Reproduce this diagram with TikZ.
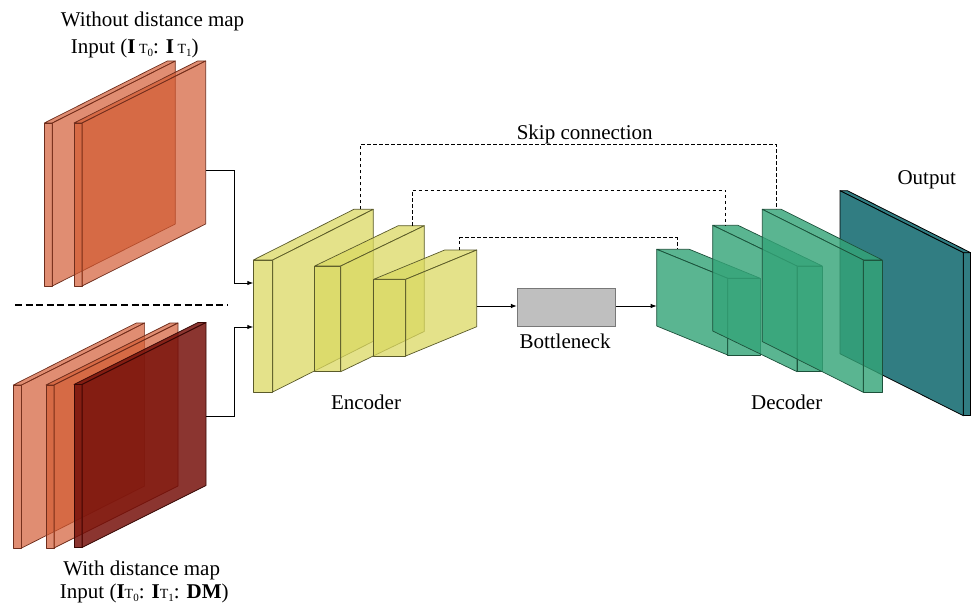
\documentclass[tikz,border=0pt]{standalone}
\usepackage{fontspec}
\setmainfont{Liberation Serif}
\usetikzlibrary{arrows.meta,calc}
\definecolor{salmon}{RGB}{210,90,50}
\definecolor{salmonE}{RGB}{110,45,28}
\definecolor{dred}{RGB}{117,14,8}
\definecolor{dredE}{RGB}{55,8,5}
\definecolor{yel}{RGB}{218,216,97}
\definecolor{yelE}{RGB}{90,90,42}
\definecolor{grn}{RGB}{52,164,120}
\definecolor{grnE}{RGB}{28,80,58}
\definecolor{tealout}{RGB}{49,125,130}
\definecolor{bnfill}{RGB}{191,191,191}
\definecolor{bnE}{RGB}{120,120,120}
% #1 style, #2 x, #3 y, #4 w, #5 h, #6 dx, #7 dy, #8 side face x offset
\newcommand\cuboid[8]{%
  \path[#1] (#2,#3) rectangle (#2+#4,#3+#5);
  \path[#1] (#2,#3) -- (#2+#4,#3) -- (#2+#4+#6,#3+#7) -- (#2+#6,#3+#7) -- cycle;
  \path[#1] (#2+#8,#3) -- (#2+#8+#6,#3+#7) -- (#2+#8+#6,#3+#5+#7) -- (#2+#8,#3+#5) -- cycle;
}
\newcommand\subT[1]{{\fontsize{14}{14}\selectfont T\raisebox{-3pt}{\fontsize{11}{11}\selectfont #1}}}
\begin{document}
\begin{tikzpicture}[x=1pt,y=-1pt,
  plate/.style={fill=salmon, fill opacity=0.69, draw=salmonE, line width=0.7pt, line join=round},
  dplate/.style={fill=dred, fill opacity=0.84, draw=dredE, line width=0.7pt, line join=round},
  encblk/.style={fill=yel, fill opacity=0.74, draw=yelE, line width=0.7pt, line join=round},
  decblk/.style={fill=grn, fill opacity=0.81, draw=grnE, line width=0.7pt, line join=round},
  outblk/.style={fill=tealout, draw=black, line width=0.8pt, line join=round},
  lbl/.style={font=\fontsize{21}{25}\selectfont, anchor=base, inner sep=0pt},
  arr/.style={line width=0.9pt, -{Latex[length=6pt,width=4.5pt]}},
  skipline/.style={line width=0.9pt, dash pattern=on 3.5pt off 2.5pt},
  bnbox/.style={fill=bnfill, draw=bnE, line width=0.8pt, minimum width=98.4pt, minimum height=38.4pt, inner sep=0pt}
]
\useasboundingbox (0,0) rectangle (971,604);

% input plates (without distance map)
\cuboid{plate}{44.3}{123}{8}{163}{123}{-62}{8}
\cuboid{plate}{74}{123}{8}{163}{123.7}{-62}{8}
% separator
\draw[line width=1.2pt, dash pattern=on 7pt off 3.6pt] (15,305) -- (228,305);
% input plates (with distance map)
\cuboid{plate}{13.3}{385}{8.3}{163}{123}{-62}{8.3}
\cuboid{plate}{46}{385}{8}{163}{124}{-62}{8}
\cuboid{dplate}{74}{384.5}{8}{163}{124}{-62}{8}

% coordinates for connectors
\coordinate (inTop) at (206,170);
\coordinate (inBot) at (206,416);
\coordinate (encIn1) at (253.3,283);
\coordinate (encIn2) at (253.3,327);
\coordinate (enc3out) at (476.7,306);
\coordinate (dec1in) at (656.7,306);
\coordinate (e1s) at (360,209.3);
\coordinate (e2s) at (412.3,225.7);
\coordinate (e3s) at (459.7,250);
\coordinate (d1s) at (677,249.3);
\coordinate (d2s) at (725.7,225.3);
\coordinate (d3s) at (776,209.3);

% encoder
\cuboid{encblk}{253.3}{260}{19.4}{132}{100.6}{-50.7}{19.4}
\cuboid{encblk}{314.7}{266}{26}{105.7}{83.6}{-40.3}{26}
\cuboid{encblk}{373.7}{279.3}{32}{76.7}{71}{-29.3}{32}

% bottleneck
\node[bnbox] (bn) at (566.5,307.5) {};

% output
\cuboid{outblk}{963.3}{252.7}{7.4}{163}{-123.3}{-62}{0}

% decoder
\cuboid{decblk}{727.7}{278.3}{32.6}{76.7}{-71}{-29}{0}
\cuboid{decblk}{797}{266}{25.3}{105.7}{-84.3}{-40.7}{0}
\cuboid{decblk}{863.3}{260}{19}{132.3}{-101}{-50.7}{0}

% connectors
\draw[arr] (inTop) -- ++(28,0) |- (encIn1);
\draw[arr] (inBot) -- ++(28,0) |- (encIn2);
\draw[arr] (enc3out) -- (enc3out -| bn.west);
\draw[arr] (bn.east |- dec1in) -- (dec1in);
\draw[skipline] (e1s) -- ++(0,-65) -| (d3s);
\draw[skipline] (e2s) -- ++(0,-35.7) -| (d2s);
\draw[skipline] (e3s) -- ++(0,-12.3) -| (d1s);

% labels
\node[lbl] (t1) at (152.5,26.7) {Without distance map};
\node[lbl] (t2) at (134.7,53.3) {Input (\textbf{I}\,\subT{0}: \textbf{I}\,\subT{1})};
\node[lbl] (b1) at (141.7,575.5) {With distance map};
\node[lbl] (b2) at (144.3,598.5) {Input (\textbf{I}\subT{0}: \textbf{I}\subT{1}: \textbf{DM})};
\node[lbl] (skl) at (584.7,139.3) {Skip connection};
\node[lbl] (bnl) at (565,348.3) {Bottleneck};
\node[lbl] (encl) at (366,409.3) {Encoder};
\node[lbl] (decl) at (786.7,409.3) {Decoder};
\node[lbl] (outl) at (926.7,185) {Output};
\end{tikzpicture}
\end{document}
